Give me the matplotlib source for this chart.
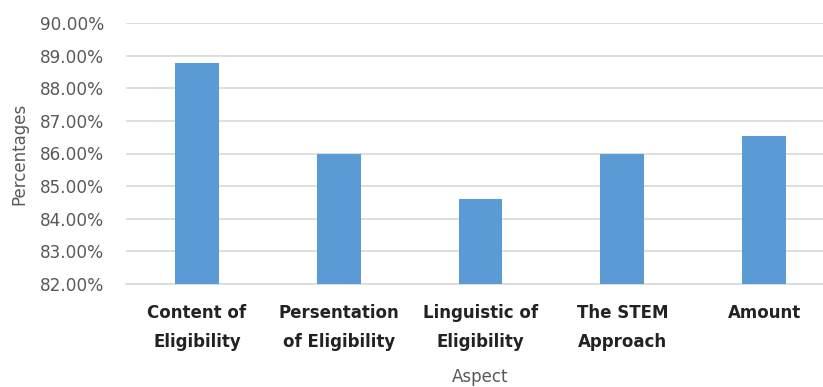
import matplotlib
matplotlib.use("Agg")
import matplotlib.pyplot as plt
from matplotlib.ticker import FuncFormatter, MultipleLocator

# data
aspects = ["Content of\nEligibility", "Persentation\nof Eligibility",
           "Linguistic of\nEligibility", "The STEM\nApproach", "Amount"]
percentages = [88.77, 86.00, 84.61, 86.00, 86.54]

plt.rcParams['font.family'] = ['DejaVu Sans']

fig = plt.figure(figsize=(8.23, 3.87), dpi=100)
# axes runs a little past the right edge, like the cropped original
ax = fig.add_axes([126 / 823, 103 / 387, 709 / 823, 261 / 387])

ax.bar(range(len(aspects)), percentages, width=0.31, color="#5b9bd5",
       bottom=0, zorder=3)

ax.set_ylim(82, 90)
ax.set_xlim(-0.5, len(aspects) - 0.5)
ax.yaxis.set_major_locator(MultipleLocator(1))
ax.yaxis.set_major_formatter(FuncFormatter(lambda v, p: "%.2f%%" % v))
ax.grid(axis="y", color="#d9d9d9", linewidth=1.2, zorder=0)

ax.set_xticks(range(len(aspects)))
ax.set_xticklabels(aspects, fontsize=12, fontweight="bold", color="#222222",
                   linespacing=1.8)
ax.tick_params(axis="x", length=0, pad=14.5)
ax.tick_params(axis="y", length=0, pad=16, labelsize=12.2, labelcolor="#595959")

for s in ["top", "right", "left"]:
    ax.spines[s].set_visible(False)
ax.spines["bottom"].set_color("#d9d9d9")
ax.spines["bottom"].set_linewidth(1.2)

ax.set_ylabel("Percentages", fontsize=12, color="#595959")
ax.yaxis.set_label_coords(-0.138, 0.5)
ax.set_xlabel("Aspect", fontsize=12, color="#595959", labelpad=12)

fig.savefig("out.png", dpi=100)
